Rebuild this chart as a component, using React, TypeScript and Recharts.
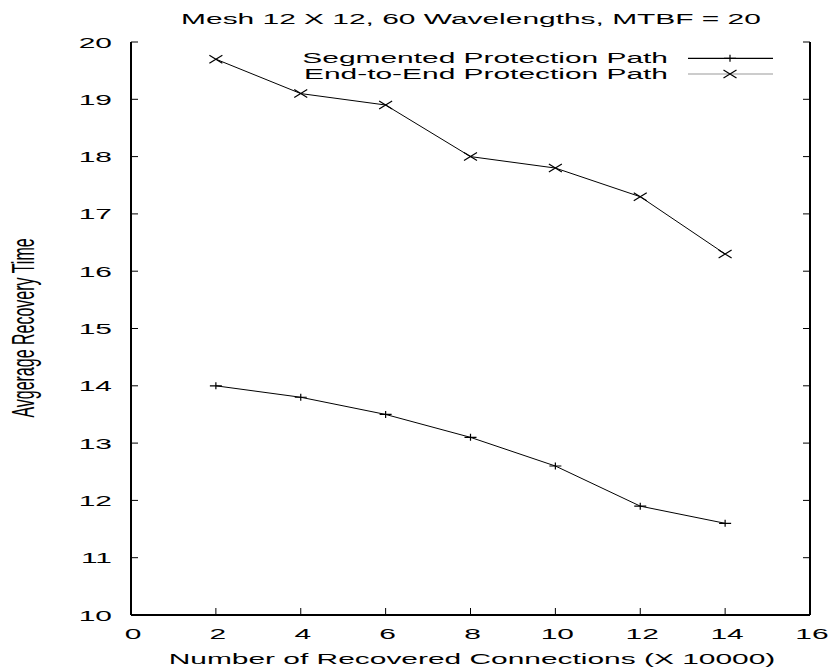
import { LineChart, Line, XAxis, YAxis, Legend, Label } from 'recharts';

const connections = [2, 4, 6, 8, 10, 12, 14];
const segmented = [14.0, 13.8, 13.5, 13.1, 12.6, 11.9, 11.6];
const endToEnd = [19.7, 19.1, 18.9, 18.0, 17.8, 17.3, 16.3];

const xTicks = [0, 2, 4, 6, 8, 10, 12, 14, 16];
const yTicks = [10, 11, 12, 13, 14, 15, 16, 17, 18, 19, 20];

const data = connections.map((x, i) => ({ x, seg: segmented[i], e2e: endToEnd[i] }));

const FONT = '"Liberation Sans", Arial, Helvetica, sans-serif';
const FS = 15.5;
// the source picture is stretched sideways, text included
const SX = 1.93;
const TICK = 7;

function SText({ x, y, anchor = 'start', rotate = false, size = FS, sx = SX, children }: any) {
    const tf = `translate(${x},${y}) scale(${sx},1)` + (rotate ? ' rotate(-90)' : '');
    return (
        <text x={0} y={0} transform={tf} textAnchor={anchor} fontSize={size} fontFamily={FONT} fill="#000">
            {children}
        </text>
    );
}

function BottomTick({ x, y, payload }: any) {
    return (
        <g>
            <line x1={x} y1={y} x2={x} y2={y - TICK} stroke="#000" strokeWidth={1} />
            <SText x={x + 2} y={y + 24} anchor="middle">{payload.value}</SText>
        </g>
    );
}

function TopTick({ x, y }: any) {
    return <line x1={x} y1={y} x2={x} y2={y + TICK} stroke="#000" strokeWidth={1} />;
}

function LeftTick({ x, y, payload }: any) {
    return (
        <g>
            <line x1={x} y1={y} x2={x + TICK} y2={y} stroke="#000" strokeWidth={1} />
            <SText x={x - 19} y={y + 5.5} anchor="end">{payload.value}</SText>
        </g>
    );
}

function RightTick({ x, y }: any) {
    return <line x1={x} y1={y} x2={x - TICK} y2={y} stroke="#000" strokeWidth={1} />;
}

function Plus({ cx, cy, stroke }: any) {
    if (cx == null || cy == null) return null;
    return (
        <path d={`M${cx - 6},${cy}H${cx + 6}M${cx},${cy - 3.5}V${cy + 3.5}`} stroke={stroke} strokeWidth={1.2} fill="none" />
    );
}

function Cross({ cx, cy, stroke }: any) {
    if (cx == null || cy == null) return null;
    const w = 6.5;
    const h = 4;
    return (
        <path
            d={`M${cx - w},${cy - h}L${cx + w},${cy + h}M${cx - w},${cy + h}L${cx + w},${cy - h}`}
            stroke={stroke}
            strokeWidth={1.2}
            fill="none"
        />
    );
}

const LEGEND_ORDER = ['seg', 'e2e'];
const LEGEND_LINE = ['#000', '#999'];
const LEGEND_FS = 13.8;

function LegendBox({ payload }: any) {
    const rows = [...(payload || [])].sort(
        (a: any, b: any) => LEGEND_ORDER.indexOf(a.dataKey) - LEGEND_ORDER.indexOf(b.dataKey)
    );
    return (
        <svg width={833} height={40} style={{ display: 'block', overflow: 'visible' }}>
            {rows.map((entry: any, i: number) => {
                const cy = 13.3 + i * 15.7;
                const Marker = entry.dataKey === 'seg' ? Plus : Cross;
                return (
                    <g key={entry.value}>
                        <SText x={668} y={cy + 4.5} anchor="end" size={LEGEND_FS} sx={(FS * SX) / LEGEND_FS}>
                            {entry.value}
                        </SText>
                        <line x1={688} y1={cy} x2={773} y2={cy} stroke={LEGEND_LINE[i]} strokeWidth={1.2} />
                        <Marker cx={730} cy={cy} stroke="#000" />
                    </g>
                );
            })}
        </svg>
    );
}

export default function App() {
    return (
        <div style={{ position: 'absolute', left: 0, top: 0, background: '#fff' }}>
            <LineChart width={833} height={670} data={data} margin={{ top: 42, right: 0, bottom: 0, left: 0 }}>
                <XAxis
                    xAxisId="b"
                    dataKey="x"
                    type="number"
                    domain={[0, 16]}
                    ticks={xTicks}
                    interval={0}
                    allowDataOverflow
                    height={55}
                    tickSize={0}
                    tickMargin={0}
                    tickLine={false}
                    tick={<BottomTick />}
                    axisLine={{ stroke: '#000', strokeWidth: 2 }}
                >
                    <Label
                        content={() => (
                            <g>
                                <SText x={471} y={24} anchor="middle">Mesh 12 X 12, 60 Wavelengths, MTBF = 20</SText>
                                <SText x={472} y={664} anchor="middle">Number of Recovered Connections (X 10000)</SText>
                            </g>
                        )}
                    />
                </XAxis>
                <XAxis
                    xAxisId="t"
                    orientation="top"
                    type="number"
                    domain={[0, 16]}
                    ticks={xTicks}
                    interval={0}
                    allowDataOverflow
                    height={0}
                    tickSize={0}
                    tickMargin={0}
                    tickLine={false}
                    tick={<TopTick />}
                    axisLine={{ stroke: '#000', strokeWidth: 2 }}
                />
                <YAxis
                    yAxisId="l"
                    type="number"
                    domain={[10, 20]}
                    ticks={yTicks}
                    interval={0}
                    allowDataOverflow
                    width={131}
                    tickSize={0}
                    tickMargin={0}
                    tickLine={false}
                    tick={<LeftTick />}
                    axisLine={{ stroke: '#000', strokeWidth: 2 }}
                >
                    <Label
                        content={() => (
                            <SText x={34} y={328} anchor="middle" rotate size={16}>
                                Avgerage Recovery Time
                            </SText>
                        )}
                    />
                </YAxis>
                <YAxis
                    yAxisId="r"
                    orientation="right"
                    type="number"
                    domain={[10, 20]}
                    ticks={yTicks}
                    interval={0}
                    allowDataOverflow
                    width={23}
                    tickSize={0}
                    tickMargin={0}
                    tickLine={false}
                    tick={<RightTick />}
                    axisLine={{ stroke: '#000', strokeWidth: 2 }}
                />
                <Legend
                    layout="vertical"
                    align="center"
                    verticalAlign="middle"
                    content={<LegendBox />}
                    wrapperStyle={{ position: 'absolute', left: 0, top: 45, width: 833, height: 40 }}
                />
                <Line
                    xAxisId="b"
                    yAxisId="l"
                    dataKey="seg"
                    name="Segmented Protection Path"
                    type="linear"
                    stroke="#000"
                    strokeWidth={1}
                    dot={<Plus />}
                    activeDot={false}
                    isAnimationActive={false}
                />
                <Line
                    xAxisId="b"
                    yAxisId="l"
                    dataKey="e2e"
                    name="End-to-End Protection Path"
                    type="linear"
                    stroke="#000"
                    strokeWidth={1}
                    dot={<Cross />}
                    activeDot={false}
                    isAnimationActive={false}
                />
            </LineChart>
        </div>
    );
}
